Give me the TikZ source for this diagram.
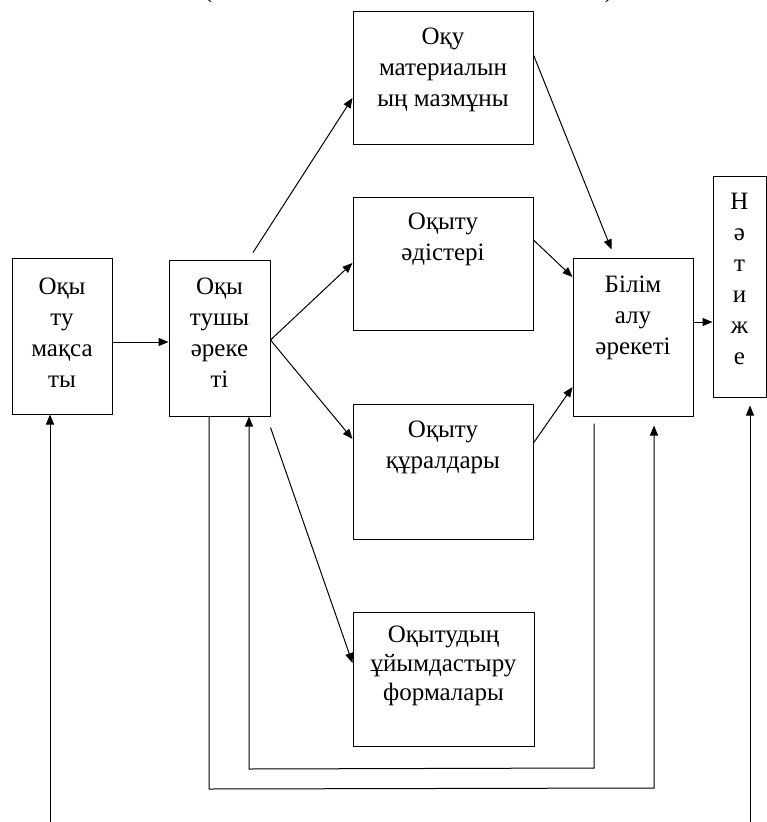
\documentclass[tikz,border=0pt]{standalone}
\usepackage{fontspec}
\setmainfont{Liberation Serif}
\usetikzlibrary{arrows.meta,calc}
\begin{document}
\begin{tikzpicture}[x=1pt,y=-1pt,
  box/.style={draw,line width=1pt,inner sep=0pt,rectangle},
  txt/.style={anchor=north,align=center,inner sep=0pt,font=\fontsize{25}{31}\selectfont},
  arr/.style={line width=1pt,-{Triangle[length=10pt,width=8pt]}},
  ln/.style={line width=1pt}]
\useasboundingbox (0,0) rectangle (767,822);
\clip (0,0) rectangle (767,822);
% partial heading (clipped at the top edge, as in the reference)
\node[anchor=base,inner sep=0pt,font=\fontsize{25}{31}\selectfont] (lp) at (208,-3) {(};
\node[anchor=base,inner sep=0pt,font=\fontsize{25}{31}\selectfont] (rp) at (609,-3) {)};
% boxes
\node[box,minimum width=100pt,minimum height=156pt] (A) at (62,336) {};
\node[box,minimum width=101pt,minimum height=156pt] (B) at (219.5,338) {};
\node[box,minimum width=180pt,minimum height=133pt] (C) at (443,77.5) {};
\node[box,minimum width=180pt,minimum height=133pt] (D) at (443,263.5) {};
\node[box,minimum width=180pt,minimum height=135pt] (E) at (443,471.5) {};
\node[box,minimum width=181pt,minimum height=134pt] (F) at (443.5,679) {};
\node[box,minimum width=120pt,minimum height=158pt] (G) at (633,337) {};
\node[box,minimum width=53pt,minimum height=221pt] (H) at (739.5,286.5) {};
% texts (north anchor + 18pt strut = first baseline)
\node[txt] (tA) at ($(A.north)+(0,19)$) {\rule{0pt}{18pt}Оқы\\ту\\мақса\\ты};
\node[txt] (tB) at ($(B.north)+(0,17)$) {\rule{0pt}{18pt}Оқы\\тушы\\әреке\\ті};
\node[txt] (tC) at ($(C.north)+(0,16)$) {\rule{0pt}{18pt}Оқу\\материалын\\ың мазмұны};
\node[txt] (tD) at ($(D.north)+(0,15)$) {\rule{0pt}{18pt}Оқыту\\әдістері};
\node[txt] (tE) at ($(E.north)+(0,16)$) {\rule{0pt}{18pt}Оқыту\\құралдары};
\node[txt,font=\fontsize{25}{29}\selectfont] (tF) at ($(F.north)+(0,13)$) {\rule{0pt}{18pt}Оқытудың\\ұйымдастыру\\формалары};
\node[txt] (tG) at ($(G.north)+(0,17)$) {\rule{0pt}{18pt}Білім\\алу\\әрекеті};
\node[txt] (tH) at ($(H.north)+(0,16)$) {\rule{0pt}{18pt}Н\\ә\\т\\и\\ж\\е};
% connectors
\draw[arr] (A.east |- 0,342) -- (B.west |- 0,342);
\draw[arr] ($(B.north)+(33.5,-7)$) -- (C.west |- 0,98);
\draw[arr] (B.east |- 0,340) -- (D.west |- 0,263);
\draw[arr] (B.east |- 0,340) -- (E.west |- 0,439);
\draw[arr] ($(B.south east)+(0,11)$) -- (F.west |- 0,663);
\draw[arr] (C.east |- 0,55) -- ($(G.north west)+(39,-8)$);
\draw[arr] (D.east |- 0,240) -- (G.west |- 0,277);
\draw[arr] (E.east |- 0,443) -- (G.west |- 0,387);
\draw[arr] (G.east |- 0,322) -- (H.west |- 0,322);
% long vertical arrows
\coordinate (lb) at (50,822);
\coordinate (rb) at (750,822);
\draw[arr] (lb) -- (lb |- A.south);
\draw[arr] (rb) -- ($(rb |- H.south)+(0,8)$);
% outer feedback loop
\coordinate (ob1) at (209,789);
\coordinate (ob2) at (654,788);
\draw[arr] (ob1 |- B.south) -- (ob1) -- (ob2) -- ($(ob2 |- G.south)+(0,9)$);
% inner feedback loop
\coordinate (ib1) at (594,768);
\coordinate (ib2) at (249,769);
\draw[arr] ($(ib1 |- G.south)+(0,7)$) -- (ib1) -- (ib2) -- (ib2 |- B.south);
\end{tikzpicture}
\end{document}
